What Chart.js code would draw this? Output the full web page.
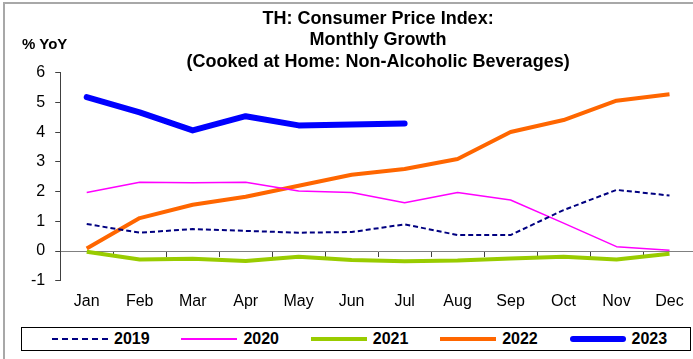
<!DOCTYPE html>
<html>
<head>
<meta charset="utf-8">
<title>TH CPI - Non-Alcoholic Beverages</title>
<script src="https://cdn.jsdelivr.net/npm/chart.js@4.4.0/dist/chart.umd.min.js"></script>
<style>
  body { margin: 0; background: #fff; font-family: "Liberation Sans", Arial, sans-serif; }
  #wrap { position: relative; width: 693px; height: 359px; overflow: hidden; }
  #frame { position: absolute; left: 3px; top: 2px; width: 720px; height: 400px;
           border-top: 2px solid #a8a8a8; border-left: 2px solid #a8a8a8; }
  #chart { position: absolute; left: 0; top: 0; }
  #unit { position: absolute; left: 22px; top: 35px; font-weight: bold; font-size: 15px; }
  #legend { position: absolute; left: 21px; top: 327px; width: 668px; height: 22px;
            border: 1px solid #000; display: flex; align-items: center; background: #fff; }
  .item { width: 129.4px; display: flex; align-items: center; flex: none; }
  .item:first-child { margin-left: 30px; }
  .sample { width: 56px; margin-right: 6px; }
  .item span { font-weight: bold; font-size: 16px; }
</style>
</head>
<body>
<div id="wrap">
  <div id="frame"></div>
  <canvas id="chart" width="696" height="359"></canvas>
  <div id="unit">% YoY</div>
  <div id="legend"></div>
</div>
<script>
const months = ['Jan', 'Feb', 'Mar', 'Apr', 'May', 'Jun', 'Jul', 'Aug', 'Sep', 'Oct', 'Nov', 'Dec'];

// % YoY by month
const y2019 = [0.91, 0.62, 0.74, 0.68, 0.62, 0.64, 0.90, 0.54, 0.54, 1.38, 2.06, 1.87];
const y2020 = [1.97, 2.32, 2.30, 2.32, 2.02, 1.97, 1.63, 1.97, 1.72, 0.94, 0.15, 0.03];
const y2021 = [-0.02, -0.28, -0.26, -0.33, -0.19, -0.30, -0.34, -0.32, -0.25, -0.19, -0.28, -0.09];
const y2022 = [0.09, 1.11, 1.56, 1.83, 2.20, 2.57, 2.76, 3.10, 4.01, 4.41, 5.06, 5.28];
const y2023 = [5.18, 4.67, 4.06, 4.54, 4.23, 4.26, 4.29, null, null, null, null, null];

const yTicks = [-1, 0, 1, 2, 3, 4, 5, 6];

Chart.defaults.font.family = '"Liberation Sans", Arial, sans-serif';
Chart.defaults.color = '#000';

const datasets = [
  { label: '2019', data: y2019, borderColor: '#000080', borderWidth: 2, borderDash: [5, 3] },
  { label: '2020', data: y2020, borderColor: '#ff00ff', borderWidth: 1.5 },
  { label: '2021', data: y2021, borderColor: '#99cc00', borderWidth: 4 },
  { label: '2022', data: y2022, borderColor: '#ff6600', borderWidth: 4 },
  { label: '2023', data: y2023, borderColor: '#0000ff', borderWidth: 6, borderCapStyle: 'round' }
].map(d => Object.assign({ pointRadius: 0, tension: 0, fill: false, borderJoinStyle: 'round', spanGaps: false }, d));

new Chart(document.getElementById('chart'), {
  type: 'line',
  data: { labels: months, datasets: datasets },
  options: {
    responsive: false,
    animation: false,
    layout: { padding: { left: 21, right: 0, top: 0, bottom: 37 } },
    plugins: {
      legend: { display: false },
      tooltip: { enabled: false },
      title: {
        display: true,
        fullSize: false,
        text: ['TH: Consumer Price Index:', 'Monthly Growth', '(Cooked at Home: Non-Alcoholic Beverages)'],
        font: { size: 18, weight: 'bold', lineHeight: 1.2 },
        color: '#000',
        padding: { top: 8, bottom: 0 }
      }
    },
    scales: {
      // axis line through zero with tick marks between months
      x: {
        type: 'category',
        position: { y: 0 },
        offset: true,
        grid: { display: true, drawOnChartArea: false, offset: true, tickLength: 5, color: '#404040' },
        border: { display: true, color: '#808080', width: 1 },
        ticks: { display: false }
      },
      // month names along the bottom
      xm: {
        type: 'category',
        position: 'bottom',
        offset: true,
        grid: { display: false, drawTicks: false },
        border: { display: false },
        ticks: { font: { size: 16 }, padding: 11, maxRotation: 0, autoSkip: false }
      },
      y: {
        min: -1,
        max: 6,
        afterBuildTicks: s => { s.ticks = yTicks.map(v => ({ value: v })); },
        grid: { drawOnChartArea: false, tickLength: 5, color: '#404040' },
        border: { color: '#404040' },
        ticks: { font: { size: 16 }, padding: 10 }
      }
    }
  }
});

// legend built from the dataset styles
const legend = document.getElementById('legend');
datasets.forEach(d => {
  const item = document.createElement('div');
  item.className = 'item';
  const sample = document.createElement('div');
  sample.className = 'sample';
  if (d.borderDash) {
    sample.style.borderTop = d.borderWidth + 'px dashed ' + d.borderColor;
  } else {
    sample.style.height = Math.max(2, d.borderWidth) + 'px';
    sample.style.background = d.borderColor;
    if (d.borderCapStyle === 'round') sample.style.borderRadius = '3px';
  }
  const text = document.createElement('span');
  text.textContent = d.label;
  item.appendChild(sample);
  item.appendChild(text);
  legend.appendChild(item);
});
</script>
</body>
</html>
